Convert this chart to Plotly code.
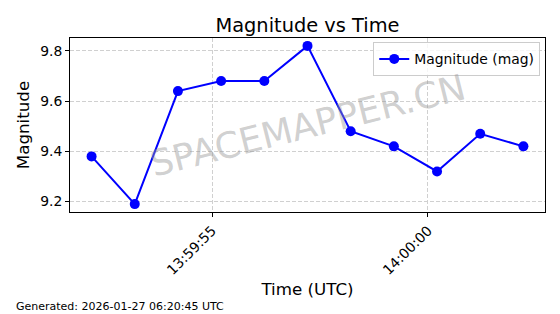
import plotly.graph_objects as go

times = ["2026-01-27 13:59:52.21", "2026-01-27 13:59:53.21", "2026-01-27 13:59:54.21",
         "2026-01-27 13:59:55.21", "2026-01-27 13:59:56.21", "2026-01-27 13:59:57.21",
         "2026-01-27 13:59:58.21", "2026-01-27 13:59:59.21", "2026-01-27 14:00:00.21",
         "2026-01-27 14:00:01.21", "2026-01-27 14:00:02.21"]
magnitudes = [9.38, 9.19, 9.64, 9.68, 9.68, 9.82, 9.48, 9.42, 9.32, 9.47, 9.42]
tick_vals = ["2026-01-27 13:59:55", "2026-01-27 14:00:00"]
tick_text = ["13:59:55", "14:00:00"]

FONT = "DejaVu Sans"
GRID = "#d0d0d0"

fig = go.Figure()
fig.add_trace(go.Scatter(
    x=times, y=magnitudes, mode="lines+markers", name="Magnitude (mag)",
    line=dict(color="#0000ff", width=2),
    marker=dict(color="#0000ff", size=10),
))

fig.update_layout(
    width=560, height=314,
    margin=dict(l=70, r=15, t=38, b=102),
    paper_bgcolor="white", plot_bgcolor="white",
    font=dict(family=FONT, color="black"),
    title=dict(text="Magnitude vs Time", x=0.5, xref="paper", xanchor="center",
               y=1, yref="container", yanchor="top", pad=dict(t=18),
               font=dict(size=19.4, family=FONT)),
    showlegend=True,
    legend=dict(x=0.99, y=0.975, xanchor="right", yanchor="top",
                bordercolor="#cccccc", borderwidth=1, bgcolor="rgba(255,255,255,0.8)",
                font=dict(size=13.9, family=FONT)),
    xaxis=dict(
        type="date",
        range=["2026-01-27 13:59:51.71", "2026-01-27 14:00:02.71"],
        tickvals=tick_vals, ticktext=tick_text, tickangle=-45,
        ticks="outside", ticklen=4, tickcolor="black",
        tickfont=dict(size=13.9, family=FONT),
        showgrid=True, gridcolor=GRID, griddash="4px,2px", gridwidth=1,
        showline=True, linecolor="black", linewidth=1, mirror=True,
        zeroline=False,
        title=dict(text="Time (UTC)", font=dict(size=16.7, family=FONT), standoff=6),
    ),
    yaxis=dict(
        range=[9.1585, 9.8515],
        tickvals=[9.2, 9.4, 9.6, 9.8], ticktext=["9.2", "9.4", "9.6", "9.8"],
        ticks="outside", ticklen=4, tickcolor="black",
        tickfont=dict(size=13.9, family=FONT),
        showgrid=True, gridcolor=GRID, griddash="4px,2px", gridwidth=1,
        showline=True, linecolor="black", linewidth=1, mirror=True,
        zeroline=False,
        title=dict(text="Magnitude", font=dict(size=16.7, family=FONT), standoff=6),
    ),
)

fig.add_annotation(text="SPACEMAPPER.CN", xref="paper", yref="paper", x=0.5, y=0.5,
                   showarrow=False, textangle=-14,
                   font=dict(size=36, family=FONT, color="rgba(150,150,150,0.45)"))
fig.add_annotation(text="Generated: 2026-01-27 06:20:45 UTC", xref="paper", yref="paper",
                   x=-0.117, y=-0.545, xanchor="left", yanchor="middle", showarrow=False,
                   font=dict(size=11, family=FONT, color="black"))

fig.write_html("out.html")
